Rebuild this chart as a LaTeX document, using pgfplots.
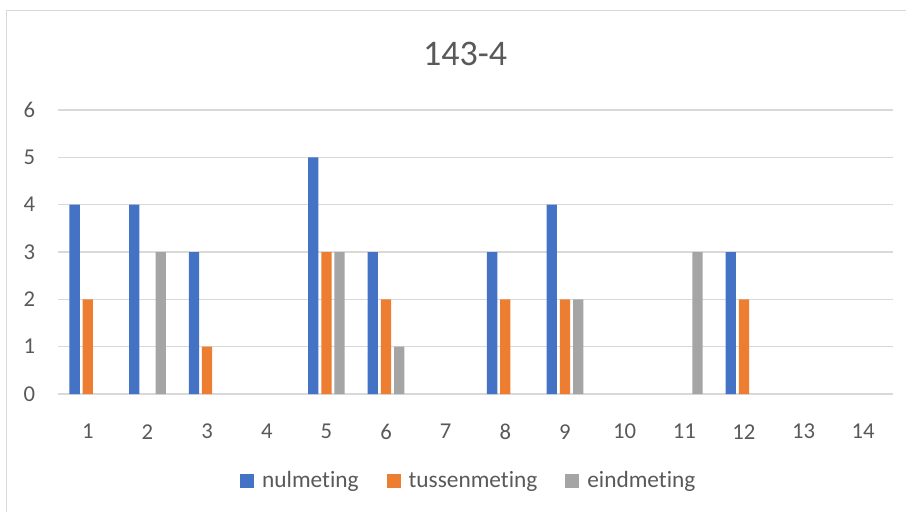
\documentclass[border=0pt]{standalone}
\usepackage{fontspec}
\setmainfont{Carlito}[Ligatures=NoCommon]
\usepackage{pgfplots}
\pgfplotsset{compat=1.18}
\definecolor{c1}{HTML}{4472C4}
\definecolor{c2}{HTML}{ED7D31}
\definecolor{c3}{HTML}{A5A5A5}
\definecolor{gridc}{HTML}{D9D9D9}
\definecolor{txt}{HTML}{595959}
\begin{document}
\begin{tikzpicture}
\useasboundingbox (0,0) rectangle (679.5pt,383.25pt);
% chart frame (right and bottom edges fall outside the picture)
\draw[gridc, line width=1.1pt] (4.875pt,-20pt) -- (4.875pt,375.375pt) -- (700pt,375.375pt);
\node[txt, font=\fontsize{27}{32}\selectfont] at (348.75pt,342.75pt) {143-4};
\begin{axis}[
    at={(43.5pt,87.75pt)}, anchor=south west,
    scale only axis,
    width=626.25pt, height=213pt,
    ybar, bar width=7.7pt,
    xmin=-0.5, xmax=13.5,
    ymin=0, ymax=6,
    xtick={0,...,13},
    xticklabels={1,2,3,4,5,6,7,8,9,10,11,12,13,14},
    ytick={0,...,6},
    ymajorgrids,
    grid style={gridc, line width=1pt},
    axis line style={draw=none},
    major tick style={draw=none},
    y filter/.expression={y==0 ? nan : y},
    /pgf/number format/assume math mode=true,
    tick label style={txt, font=\fontsize{17}{20}\selectfont, inner sep=0pt},
    yticklabel style={anchor=east, xshift=-17pt},
    xticklabel style={anchor=center, yshift=-24pt},
    legend style={at={(0.4916,-0.3028)}, anchor=center, draw=none,
        legend columns=-1, font=\fontsize{17.5}{20}\selectfont, text=txt,
        /tikz/every odd column/.append style={column sep=5pt},
        /tikz/every even column/.append style={column sep=20pt},
        nodes={inner sep=1pt}},
    legend image code/.code={\fill[#1] (0pt,-6pt) rectangle (10.5pt,4.5pt);},
]
\addplot[fill=c1, draw=none, bar shift=-9.9pt] coordinates {
    (0,4) (1,4) (2,3) (3,0) (4,5) (5,3) (6,0) (7,3) (8,4) (9,0) (10,0) (11,3) (12,0) (13,0)};
\addlegendentry{nulmeting}
\addplot[fill=c2, draw=none, bar shift=0pt] coordinates {
    (0,2) (1,0) (2,1) (3,0) (4,3) (5,2) (6,0) (7,2) (8,2) (9,0) (10,0) (11,2) (12,0) (13,0)};
\addlegendentry{tussenmeting}
\addplot[fill=c3, draw=none, bar shift=9.9pt] coordinates {
    (0,0) (1,3) (2,0) (3,0) (4,3) (5,1) (6,0) (7,0) (8,2) (9,0) (10,3) (11,0) (12,0) (13,0)};
\addlegendentry{eindmeting}
\end{axis}
\end{tikzpicture}
\end{document}
